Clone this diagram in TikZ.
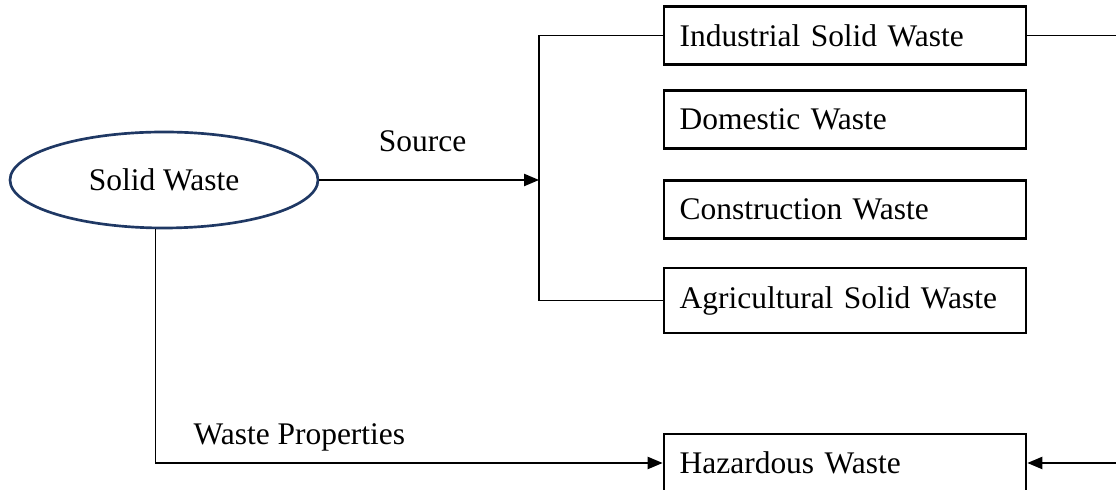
\documentclass[tikz,border=0pt]{standalone}
\usepackage{fontspec}
\setmainfont{Liberation Serif}
\usetikzlibrary{arrows.meta,shapes.geometric}
\definecolor{navy}{RGB}{31,56,100}

\begin{document}
\begin{tikzpicture}[x=0.375pt, y=-0.375pt, >={Triangle[length=5.6pt,width=4.6pt]},
    font=\fontsize{11.8}{14}\selectfont, line width=0.5pt,
    kind/.style={draw, line width=1pt, text width=124pt, inner xsep=5.9pt, align=left, minimum height=21.75pt},
    waste/.style={ellipse, draw=navy, line width=1pt, minimum width=115.5pt, minimum height=36pt}]
    \useasboundingbox (0,0) rectangle (1116,490);
    \clip (0,0) rectangle (1116,490);

    % Nodes {sw, ind, dom, con, agr, haz}
    \node [waste]                           (sw)   at (164,180)   {Solid Waste};
    \node [kind]                            (ind)  at (845,35.5)  {Industrial Solid Waste};
    \node [kind]                            (dom)  at (845,119.5) {Domestic Waste};
    \node [kind]                            (con)  at (845,209.5) {Construction Waste};
    \node [kind, minimum height=24.4pt]     (agr)  at (845,300.5) {Agricultural Solid Waste};
    \node [kind]                            (haz)  at (845,463)   {Hazardous Waste};

    % Free ends
    \coordinate (split)  at (539,180);
    \coordinate (indout) at (1116,35.5);
    \coordinate (hazin)  at (1116,463);

    % Paths
    \path [->]  (sw.east) edge  node [above=7pt, pos=0.47]  {Source}  (split);
    \draw       (ind.west) -| (split) |- (agr.west);
    \draw [->]  (sw.260) |- node [above=1pt, pos=0.642] {Waste Properties} (haz.west);
    \draw       (ind.east) -- (indout);
    \draw [->]  (hazin) -- (haz.east);

\end{tikzpicture}
\end{document}
